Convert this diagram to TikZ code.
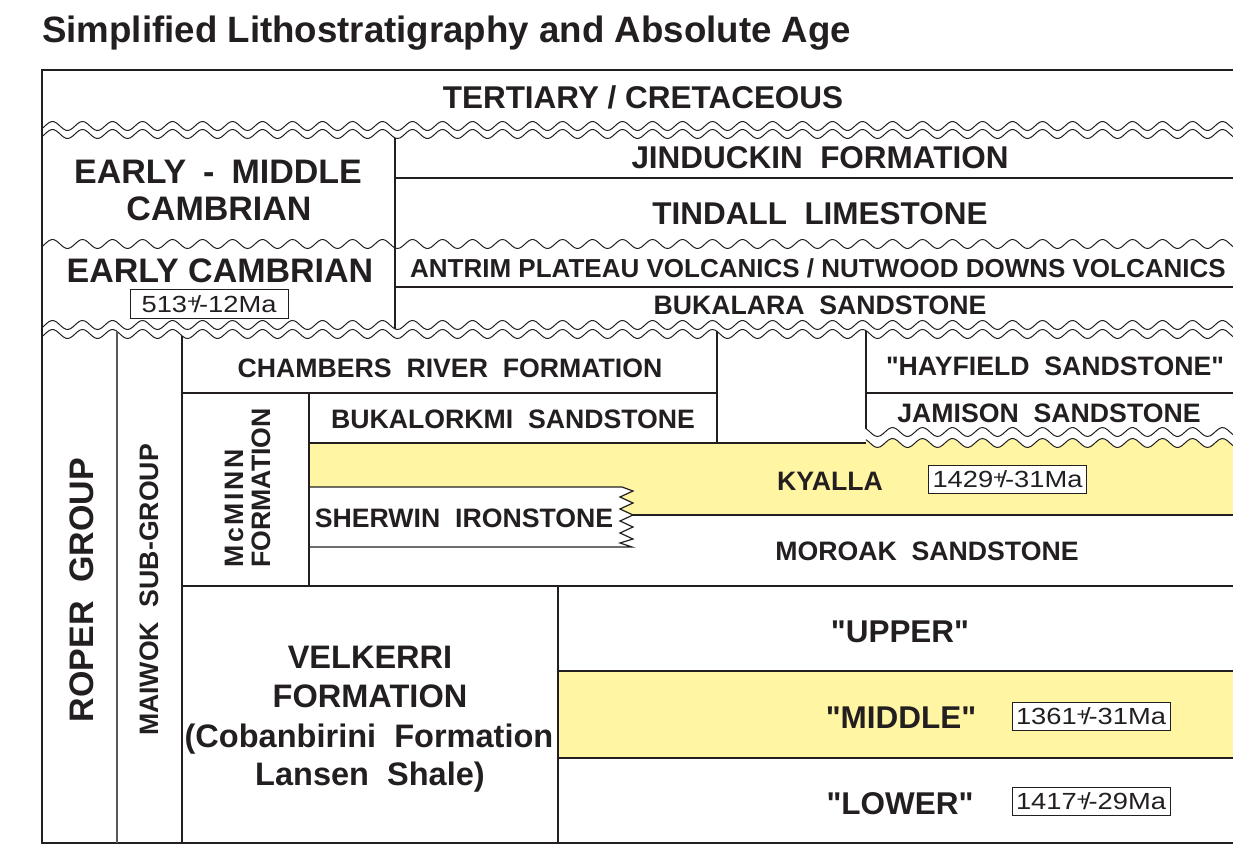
\documentclass[tikz,border=0pt]{standalone}
\usepackage{fontspec}
\setmainfont{Liberation Sans}[Ligatures=TeXOff]
\definecolor{ink}{HTML}{231F20}
\definecolor{yel}{HTML}{FFF5A3}
\newcommand{\wv}[2]{{#1+4.5*sin(12*#2)}}
\newcommand{\pmx}{{\raisebox{.2em}{\scalebox{.75}{+}}\kern-.2em/\kern-.08em-}}
\newcommand{\agetxt}[1]{\scalebox{1.17}[1]{#1}}
\begin{document}
\begin{tikzpicture}[x=0.75pt,y=-0.75pt,
  ln/.style={draw=ink, line width=0.9pt},
  wline/.style={draw=ink, line width=0.75pt},
  frame/.style={draw=ink, line width=1.5pt},
  lbl/.style={text=ink, inner sep=0pt, anchor=base, font=\bfseries\fontsize{20}{24}\selectfont},
  big/.style={lbl, font=\bfseries\fontsize{23.6}{28}\selectfont},
  vel/.style={lbl, font=\bfseries\fontsize{24.4}{28}\selectfont},
  large/.style={lbl, font=\bfseries\fontsize{25.5}{30}\selectfont},
  age/.style={draw=ink, line width=0.75pt, fill=white, text=ink, inner sep=0pt, minimum width=118.5pt, minimum height=21.5pt, font=\fontsize{17.5}{19}\selectfont},
]
\useasboundingbox (0,0) rectangle (1233,846);
% fills
\fill[yel] (309,443) -- (866,443) -- plot[domain=866:1233,samples=120,variable=\t] (\t,{443+4.5*sin(12*\t)}) -- (1233,515) -- (615,515) -- (615,487) -- (309,487) -- cycle;
\fill[yel] (558,671) rectangle (1233,758);
% Sherwin box with zigzag edge
\filldraw[fill=white, ln] (309,487) -- (622,487) -- (633,491) -- (620,497) -- (633,503) -- (620,509) -- (633,515) -- (620,521) -- (633,527) -- (620,533) -- (633,539) -- (620,543) -- (632,547) -- (309,547);
% frame
\draw[frame] (1233,70) -- (42,70) -- (42,843) -- (1233,843);
% wavy unconformities
\foreach \c in {126,134,244,325,334}
  \draw[wline] plot[domain=42:1233,samples=500,variable=\t] (\t,{\c+4.5*sin(12*\t)});
\foreach \c in {432,443}
  \draw[wline] plot[domain=866:1233,samples=130,variable=\t] (\t,{\c+4.5*sin(12*\t)});
% horizontal lines
\draw[ln] (395,178) -- (1233,178);
\draw[ln] (395,287) -- (1233,287);
\draw[ln] (182,393) -- (717,393);
\draw[ln] (866,393) -- (1233,393);
\draw[ln] (309,443) -- (866,443);
\draw[ln] (633,515) -- (1233,515);
\draw[ln] (182,586) -- (1233,586);
\draw[ln] (558,671) -- (1233,671);
\draw[ln] (558,758) -- (1233,758);
% vertical lines
\draw[ln] (395,\wv{134}{395}) -- (395,\wv{325}{395});
\draw[ln, draw=ink!75] (117,\wv{334}{117}) -- (117,843);
\draw[ln] (182,\wv{334}{182}) -- (182,843);
\draw[ln] (309,393) -- (309,586);
\draw[ln] (558,586) -- (558,843);
\draw[ln] (717,\wv{334}{717}) -- (717,443);
\draw[ln] (866,\wv{334}{866}) -- (866,\wv{432}{866});
% title
\node[lbl, anchor=base west, font=\bfseries\fontsize{27.5}{32}\selectfont] (title) at (42,42) {Simplified Lithostratigraphy and Absolute Age};
% upper section
\node[big] (tert) at (643,108) {TERTIARY / CRETACEOUS};
\node[large] (emc1) at (218,183) {EARLY\hspace{.5em}-\hspace{.5em}MIDDLE};
\node[large] (emc2) at (219,220) {CAMBRIAN};
\node[large] (ec) at (220,282) {EARLY CAMBRIAN};
\node[age] (a513) at (209,304) {\agetxt{513\pmx12Ma}};
\node[big] (jin) at (820,168) {JINDUCKIN\ \ FORMATION};
\node[big] (tin) at (820,224) {TINDALL\ \ LIMESTONE};
\node[lbl, font=\bfseries\fontsize{19.5}{24}\selectfont] (ant) at (818,277) {ANTRIM PLATEAU VOLCANICS / NUTWOOD DOWNS VOLCANICS};
\node[lbl] (buk) at (820,314) {BUKALARA\ \ SANDSTONE};
% lower section
\node[large, rotate=90] (roper) at (93,590) {ROPER\ \ GROUP};
\node[lbl, rotate=90] (maiwok) at (158,590) {MAIWOK\ \ SUB-GROUP};
\node[lbl, rotate=90, anchor=base west] (mcm1) at (243,568) {M\kern2pt c\kern2pt M\kern2pt I\kern2pt N\kern2pt N};
\node[lbl, rotate=90, anchor=base west] (mcm2) at (270,568) {FORMATION};
\node[lbl] (cham) at (450,377) {CHAMBERS\ \ RIVER\ \ FORMATION};
\node[lbl] (bukal) at (513,428) {BUKALORKMI\ \ SANDSTONE};
\node[lbl] (hay) at (1055,375) {"HAYFIELD\ \ SANDSTONE"};
\node[lbl] (jam) at (1049,422) {JAMISON\ \ SANDSTONE};
\node[lbl] (kya) at (830,490) {KYALLA};
\node[age] (a1429) at (1007.5,479.5) {\agetxt{1429\pmx31Ma}};
\node[lbl] (sher) at (464,527) {SHERWIN\ \ IRONSTONE};
\node[lbl] (mor) at (927,560) {MOROAK\ \ SANDSTONE};
\node[vel] (vel1) at (370,668) {VELKERRI};
\node[vel] (vel2) at (370,707) {FORMATION};
\node[vel] (vel3) at (369,747) {(Cobanbirini\ \ Formation};
\node[vel] (vel4) at (370,785) {Lansen\ \ Shale)};
\node[big] (upper) at (900,642) {"UPPER"};
\node[big] (middle) at (901,728) {"MIDDLE"};
\node[age] (a1361) at (1091,716.5) {\agetxt{1361\pmx31Ma}};
\node[big] (lower) at (900,814) {"LOWER"};
\node[age] (a1417) at (1091,801.5) {\agetxt{1417\pmx29Ma}};
\end{tikzpicture}
\end{document}
